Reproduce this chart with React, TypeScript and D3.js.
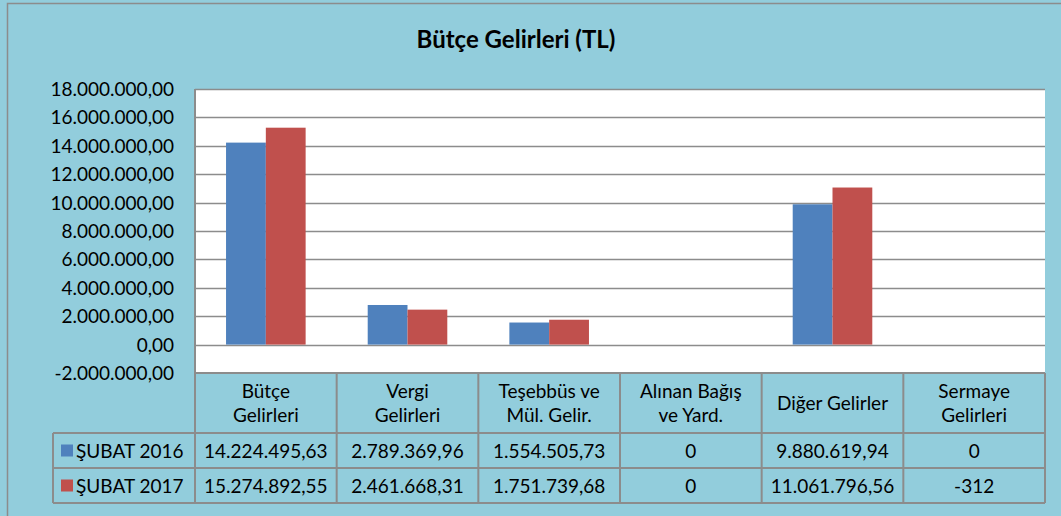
import React, { useEffect, useRef } from "react";
import * as d3 from "d3";

const categories = [
  ["Bütçe", "Gelirleri"],
  ["Vergi", "Gelirleri"],
  ["Teşebbüs ve", "Mül. Gelir."],
  ["Alınan Bağış", "ve Yard."],
  ["Diğer Gelirler"],
  ["Sermaye", "Gelirleri"],
];
const seriesNames = ["ŞUBAT 2016", "ŞUBAT 2017"];
const values2016 = [14224495.63, 2789369.96, 1554505.73, 0, 9880619.94, 0];
const values2017 = [15274892.55, 2461668.31, 1751739.68, 0, 11061796.56, -312];
const labels2016 = ["14.224.495,63", "2.789.369,96", "1.554.505,73", "0", "9.880.619,94", "0"];
const labels2017 = ["15.274.892,55", "2.461.668,31", "1.751.739,68", "0", "11.061.796,56", "-312"];
const yTicks = [-2000000, 0, 2000000, 4000000, 6000000, 8000000, 10000000, 12000000, 14000000, 16000000, 18000000];
const colors = ["#4F81BD", "#C0504D"];

const W = 1061;
const H = 516;
const FONT = "Lato, 'Open Sans', sans-serif";
const FS = "19px";

const fmt = (v: number) => {
  const s = d3.format(",.2f")(Math.abs(v));
  return (v < 0 ? "-" : "") + s.replace(/,/g, "#").replace(".", ",").replace(/#/g, ".");
};

export default function App() {
  const ref = useRef<SVGSVGElement>(null);

  useEffect(() => {
    const svg = d3.select(ref.current);
    svg.selectAll("*").remove();

    const left = 195;
    const right = 1045;
    const top = 89;
    const bottom = 373;
    const headerBottom = 433;
    const row1Bottom = 468;
    const row2Bottom = 503;
    const legendLeft = 53;

    // background + frame
    svg.append("rect").attr("width", W).attr("height", H).attr("fill", "#92CDDC");
    svg
      .append("rect")
      .attr("x", 7.5)
      .attr("y", 3.5)
      .attr("width", W)
      .attr("height", H)
      .attr("fill", "none")
      .attr("stroke", "#8c8c8c")
      .attr("stroke-width", 1.5);

    svg
      .append("text")
      .attr("x", 516)
      .attr("y", 48)
      .attr("text-anchor", "middle")
      .style("font-family", FONT)
      .style("font-size", "24px")
      .style("font-weight", "700")
      .text("Bütçe Gelirleri (TL)");

    const y = d3.scaleLinear().domain([-2000000, 18000000]).range([bottom, top]);
    const x0 = d3
      .scaleBand<number>()
      .domain(d3.range(categories.length))
      .range([left, right]);
    const x1 = d3
      .scaleBand<number>()
      .domain([0, 1])
      .range([0, x0.bandwidth()])
      .paddingOuter(0.78)
      .paddingInner(0);

    // plot area
    svg
      .append("rect")
      .attr("x", left)
      .attr("y", top)
      .attr("width", right - left)
      .attr("height", bottom - top)
      .attr("fill", "#fff");

    // grid
    svg
      .append("g")
      .selectAll("line")
      .data(yTicks.filter((t) => t !== -2000000))
      .join("line")
      .attr("x1", left)
      .attr("x2", right)
      .attr("y1", (d) => Math.round(y(d)) + 0.5)
      .attr("y2", (d) => Math.round(y(d)) + 0.5)
      .attr("stroke", "#8c8c8c")
      .attr("stroke-width", 1.5);

    svg
      .append("line")
      .attr("x1", left)
      .attr("x2", left)
      .attr("y1", top)
      .attr("y2", bottom)
      .attr("stroke", "#8c8c8c")
      .attr("stroke-width", 2);

    // y labels
    svg
      .append("g")
      .selectAll("text")
      .data(yTicks)
      .join("text")
      .attr("x", 174)
      .attr("y", (d) => y(d) + 7)
      .attr("text-anchor", "end")
      .style("font-family", FONT)
      .style("font-size", FS)
      .attr("fill", "#000")
      .text((d) => fmt(d));

    // bars
    const series = [values2016, values2017];
    series.forEach((vals, si) => {
      svg
        .append("g")
        .selectAll("rect")
        .data(vals)
        .join("rect")
        .attr("x", (_, i) => (x0(i) as number) + (x1(si) as number))
        .attr("width", x1.bandwidth())
        .attr("y", (d) => Math.min(y(d), y(0)))
        .attr("height", (d) => Math.abs(y(d) - y(0)))
        .attr("fill", colors[si]);
    });

    // data table
    const grid = svg.append("g").attr("stroke", "#8c8c8c").attr("stroke-width", 2).attr("fill", "none");
    [bottom, headerBottom, row1Bottom, row2Bottom].forEach((yy, i) => {
      grid
        .append("line")
        .attr("x1", i === 0 ? left : legendLeft)
        .attr("x2", right)
        .attr("y1", yy)
        .attr("y2", yy);
    });
    grid
      .append("line")
      .attr("x1", legendLeft)
      .attr("x2", legendLeft)
      .attr("y1", headerBottom)
      .attr("y2", row2Bottom);
    d3.range(categories.length + 1).forEach((i) => {
      const xx = i === categories.length ? right : (x0(i) as number);
      grid
        .append("line")
        .attr("x1", xx)
        .attr("x2", xx)
        .attr("y1", bottom)
        .attr("y2", row2Bottom);
    });

    const cx = (i: number) => (x0(i) as number) + x0.bandwidth() / 2;
    const text = svg
      .append("g")
      .style("font-family", FONT)
      .style("font-size", FS)
      .attr("fill", "#000")
      .attr("text-anchor", "middle");

    categories.forEach((lines, i) => {
      const mid = (bottom + headerBottom) / 2;
      const startY = mid - ((lines.length - 1) * 24) / 2 + 7;
      lines.forEach((ln, li) => {
        text.append("text").attr("x", cx(i)).attr("y", startY + li * 24).text(ln);
      });
    });

    [labels2016, labels2017].forEach((labs, si) => {
      const rowMid = si === 0 ? (headerBottom + row1Bottom) / 2 : (row1Bottom + row2Bottom) / 2;
      labs.forEach((l, i) => {
        text.append("text").attr("x", cx(i)).attr("y", rowMid + 7).text(l);
      });
      svg
        .append("rect")
        .attr("x", 61)
        .attr("y", rowMid - 6)
        .attr("width", 12)
        .attr("height", 12)
        .attr("fill", colors[si]);
      svg
        .append("text")
        .attr("x", 76)
        .attr("y", rowMid + 7)
        .style("font-family", FONT)
        .style("font-size", FS)
        .text(seriesNames[si]);
    });
  }, []);

  return (
    <div style={{ position: "absolute", left: 0, top: 0 }}>
      <svg ref={ref} width={W} height={H} style={{ display: "block" }} />
    </div>
  );
}
